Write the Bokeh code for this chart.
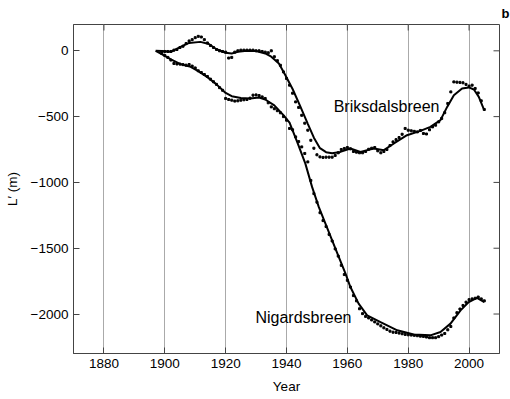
import math
from bokeh.plotting import figure
from bokeh.models import Range1d, FixedTicker, Label
from bokeh.embed import file_html
from bokeh.resources import INLINE

# Smoothed curves
brik_years = [1897, 1899, 1902, 1905, 1908, 1911.7, 1914.5, 1917, 1920, 1922, 1924, 1927, 1930, 1933,
              1935, 1937.5, 1939.5, 1942, 1944.5, 1947, 1949, 1951, 1953, 1955, 1957.7, 1961, 1964.3,
              1968.7, 1972, 1975.3, 1979.6, 1984, 1987.3, 1990.6, 1992.8, 1995, 1997.7, 1999.9,
              2001.6, 2003.2, 2004.9]
brik_curve = [0, -2, -8, 28, 60, 68, 52, 12, -15, -20, -8, 0, -2, -20,
              -45, -96, -180, -290, -420, -555, -660, -740, -770, -778, -768, -742, -768,
              -742, -755, -704, -641, -608, -578, -527, -426, -337, -286, -278,
              -294, -350, -446]

nig_years = [1897, 1899, 1902, 1905, 1908.5, 1911, 1914, 1917, 1920, 1922, 1925, 1928, 1931, 1933,
             1936, 1939, 1941, 1943.5, 1946.2, 1948.4, 1950.6, 1952.8, 1955, 1957.2, 1959.4, 1961,
             1963.7, 1966.5, 1970.9, 1976.4, 1981.8, 1987.3, 1990.6, 1993.9, 1997.2, 1999.9,
             2002.6, 2005]
nig_curve = [0, -25, -65, -100, -122, -155, -200, -255, -320, -345, -358, -362, -355, -370,
             -415, -489, -545, -692, -857, -1034, -1186, -1313, -1440, -1567, -1693, -1795,
             -1921, -2010, -2061, -2124, -2155, -2162, -2137, -2073, -1972, -1909,
             -1878, -1909]

# Annual observations, 1899-2005
obs_years = list(range(1899, 2006))
brik_obs = [
    -5, -5, -5, -5, 5, 10, 25, 35, 55, 75,                       # 1899-1908
    85, 100, 110, 105, 85, 60, 40, 25, 10, 0,                    # 1909-1918
    -5, -10, -55, -50, -10, 0, 5, 5, 5, 5,                       # 1919-1928
    5, 0, 0, -5, -10, -15, 0, -45, -75, -110,                    # 1929-1938
    -160, -210, -261, -322, -388, -430, -490, -550, -603, -680,  # 1939-1948
    -740, -790, -806, -810, -808, -808, -808, -795, -775, -750,  # 1949-1958
    -742, -735, -745, -765, -770, -775, -775, -765, -748, -740,  # 1959-1968
    -735, -760, -775, -765, -750, -720, -692, -675, -659, -634,  # 1969-1978
    -590, -603, -608, -612, -616, -605, -628, -632, -600, -578,  # 1979-1988
    -565, -540, -514, -470, -400, -312, -236, -238, -240, -243,  # 1989-1998
    -255, -268, -261, -286, -320, -380, -446,                    # 1999-2005
]
nig_obs = [
    -20, -35, -50, -70, -96, -100, -101, -105, -109, -104,                 # 1899-1908
    -116, -130, -152, -165, -180, -195, -215, -235, -255, -280,            # 1909-1918
    -300, -362, -370, -375, -382, -380, -375, -372, -370, -360,            # 1919-1928
    -337, -335, -340, -350, -362, -395, -426, -440, -455, -471,            # 1929-1938
    -500, -527, -590, -600, -654, -690, -730, -780, -844, -985,            # 1939-1948
    -1085, -1150, -1230, -1290, -1335, -1395, -1445, -1505, -1560, -1630,  # 1949-1958
    -1700, -1744, -1795, -1860, -1900, -1960, -1997, -2018, -2030, -2045,  # 1959-1968
    -2060, -2075, -2090, -2105, -2117, -2130, -2138, -2140, -2145, -2150,  # 1969-1978
    -2155, -2158, -2160, -2162, -2165, -2168, -2170, -2175, -2180, -2180,  # 1979-1988
    -2180, -2172, -2160, -2148, -2120, -2095, -2030, -1990, -1962, -1935,  # 1989-1998
    -1910, -1891, -1885, -1880, -1871, -1885, -1900,                       # 1999-2005
]

x_ticks = [1880, 1900, 1920, 1940, 1960, 1980, 2000]
y_ticks = [0, -500, -1000, -1500, -2000]
x_lo, x_hi = 1870, 2010
y_lo, y_hi = -2300, 200

FONT = "Liberation Sans"
FRAME = "#444444"

p = figure(width=510, height=399, x_range=Range1d(x_lo, x_hi), y_range=Range1d(y_lo, y_hi),
           output_backend="svg", toolbar_location=None,
           min_border_left=73, min_border_right=11, min_border_top=24, min_border_bottom=46)
p.outline_line_color = FRAME
p.outline_line_width = 1
p.background_fill_color = "white"
p.border_fill_color = "white"

# panel letter as the title, pushed past the frame's right edge
p.title.text = "b"
p.title.align = "left"
p.title.offset = 428
p.title.standoff = 7
p.title.text_font = FONT
p.title.text_font_size = "13px"
p.title.text_font_style = "bold"
p.title.text_color = "black"

p.xgrid.ticker = FixedTicker(ticks=x_ticks)
p.xgrid.grid_line_color = "#aaaaaa"
p.xgrid.grid_line_width = 1
p.ygrid.grid_line_color = None

for ax in (p.xaxis[0], p.yaxis[0]):
    ax.major_tick_in = 6
    ax.major_tick_out = 0
    ax.minor_tick_in = 0
    ax.minor_tick_out = 0
    ax.axis_line_color = FRAME
    ax.major_tick_line_color = FRAME
    ax.major_label_text_font = FONT
    ax.major_label_text_font_size = "13.5px"
    ax.major_label_text_color = "black"
    ax.axis_label_text_font = FONT
    ax.axis_label_text_font_size = "13.5px"
    ax.axis_label_text_font_style = "normal"
    ax.axis_label_text_color = "black"
    ax.major_label_standoff = 5
    ax.axis_label_standoff = 8

p.xaxis[0].ticker = FixedTicker(ticks=x_ticks)
p.yaxis[0].ticker = FixedTicker(ticks=y_ticks)
p.xaxis[0].axis_label = "Year"
p.yaxis[0].axis_label = "L\u2032 (m)"

# inside tick marks on the right and top edges (half of each dash is clipped by the frame)
p.scatter([x_hi] * len(y_ticks), y_ticks, marker="dash", size=12, line_color=FRAME, line_width=1)
p.scatter(x_ticks, [y_hi] * len(x_ticks), marker="dash", size=12, angle=math.pi / 2,
          line_color=FRAME, line_width=1)

# observations
p.scatter(obs_years, brik_obs, marker="square", size=2.0, color="black")
p.scatter(obs_years, nig_obs, marker="square", size=2.0, color="black")

# smoothed curves
p.line(brik_years, brik_curve, line_color="black", line_width=2.0)
p.line(nig_years, nig_curve, line_color="black", line_width=2.0)

p.add_layout(Label(x=1955.5, y=-425, text="Briksdalsbreen", text_font=FONT,
                   text_font_size="16px", text_color="black", text_baseline="alphabetic"))
p.add_layout(Label(x=1929.8, y=-2023, text="Nigardsbreen", text_font=FONT,
                   text_font_size="16px", text_color="black", text_baseline="alphabetic"))

open("out.html", "w").write(file_html(p, INLINE))
